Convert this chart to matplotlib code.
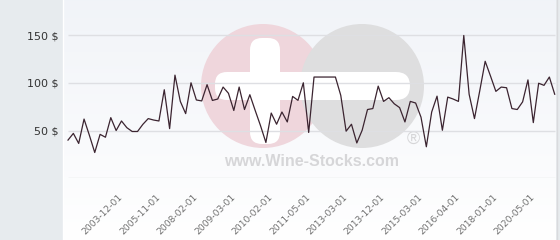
import numpy as np
import matplotlib
matplotlib.use("Agg")
import matplotlib.pyplot as plt
from matplotlib.patches import Circle, FancyBboxPatch
import matplotlib.transforms as mtransforms

# price per sale (USD)
prices = [40, 47, 36.5, 62, 45, 27, 46, 43, 63.5, 50,
          60, 53, 49, 49, 56.5, 62.5, 61, 60, 92.7, 52,
          108, 80.5, 67.7, 100, 82, 81, 98, 81.5, 83, 95.5,
          89, 71, 95.5, 72, 87.5, 71, 55, 37.5, 68.3, 56.6,
          69.4, 59, 85.7, 81.6, 100, 48, 106, 106, 106, 106,
          106, 86.8, 49.3, 56.6, 37, 50.3, 72, 73, 96.5, 80.5,
          84.4, 78, 74, 59, 80.5, 78.8, 64, 33, 69.4, 86,
          50.3, 85, 83, 80.5, 149.5, 88, 62.5, 92, 122.5, 107,
          91, 95.5, 94.8, 73, 72, 80, 103, 58.3, 99.5, 97.3,
          106, 88]

# labelled sale dates (every 7th sale)
tick_idx = [10, 17, 24, 31, 38, 45, 52, 59, 66, 73, 80, 87]
tick_labels = ['2003-12-01', '2005-11-01', '2008-02-01', '2009-03-01',
               '2010-02-01', '2011-05-01', '2013-03-01', '2013-12-01',
               '2015-03-01', '2016-04-01', '2018-01-01', '2020-05-01']

y_ticks = [50, 100, 150]
grid_levels = [0, 50, 100, 150]

W, H = 560, 240
fig = plt.figure(figsize=(W / 100, H / 100), dpi=100)
fig.patch.set_facecolor('#e7ebee')

# plot background with soft vertical gradient
left, right = 63, 556
ax_bg = fig.add_axes([left / W, 0, (right - left) / W, 1])
top_c = np.array([0.945, 0.955, 0.973])
bot_c = np.array([1.0, 1.0, 1.0])
t = np.linspace(0, 1, 256)[:, None]
grad = top_c * (1 - t) + bot_c * t
ax_bg.imshow(grad[:, None, :], aspect='auto', extent=[0, 1, 0, 1])
ax_bg.axis('off')

# watermark logo, in pixel coordinates
ax_wm = fig.add_axes([0, 0, 1, 1], zorder=1)
ax_wm.set_xlim(0, W)
ax_wm.set_ylim(H, 0)
ax_wm.axis('off')
ax_wm.patch.set_alpha(0)
ax_wm.add_patch(Circle((263, 86), 62, color='#efd6dc', lw=0))
ax_wm.add_patch(Circle((362, 86), 62, color='#dededf', lw=0))
ax_wm.add_patch(FancyBboxPatch((229, 72), 181, 28,
                               boxstyle='round,pad=0,rounding_size=14',
                               color='white', lw=0))
ax_wm.add_patch(FancyBboxPatch((250, 38), 30, 106,
                               boxstyle='round,pad=0,rounding_size=12',
                               color='white', lw=0))
ax_wm.add_patch(FancyBboxPatch((215, 72), 40, 28,
                               boxstyle='round,pad=0,rounding_size=12',
                               color='white', lw=0))
ax_wm.text(312, 161, 'www.Wine-Stocks.com', family='Liberation Sans',
           weight='bold', fontsize=11.5, color='#d6d6d8',
           ha='center', va='center')
ax_wm.text(413, 139, '\u00ae', family='Liberation Sans', fontsize=13,
           color='#d6d6d8', ha='center', va='center')

# main axes
y0 = 178.3
ax = fig.add_axes([left / W, (H - y0) / H, (right - left) / W, y0 / H], zorder=2)
ax.patch.set_alpha(0)
n = len(prices)
x = np.arange(n)
px_per_idx = (554.7 - 68) / (n - 1)
ax.set_xlim(-(68 - left) / px_per_idx, (n - 1) + (right - 554.7) / px_per_idx)
ax.set_ylim(0, y0 / 0.9553)

ax.hlines(grid_levels, 0, n - 1, color='#dedfe3', lw=1, zorder=1)
ax.plot(x, prices, color='#3b2430', lw=0.9, zorder=3)

for s in ax.spines.values():
    s.set_visible(False)

ax.set_yticks(y_ticks, [f'{v} $' for v in y_ticks])
ax.tick_params(axis='y', length=0, pad=3, labelsize=8, labelcolor='#333333')

ax.set_xticks(tick_idx, tick_labels)
ax.tick_params(axis='x', length=0, pad=10, labelsize=6.6, labelcolor='#707070')
offset = mtransforms.ScaledTranslation(3 / 100, 0, fig.dpi_scale_trans)
for lab in ax.get_xticklabels():
    lab.set_rotation(45)
    lab.set_ha('right')
    lab.set_va('top')
    lab.set_transform(lab.get_transform() + offset)

# thin separators
fig.add_artist(plt.Line2D([left / W] * 2, [0, 1], color='white', lw=1))
fig.add_artist(plt.Line2D([(right + 0.5) / W] * 2, [0, 1], color='#d9dadd', lw=1))

fig.savefig('out.png', dpi=100)
